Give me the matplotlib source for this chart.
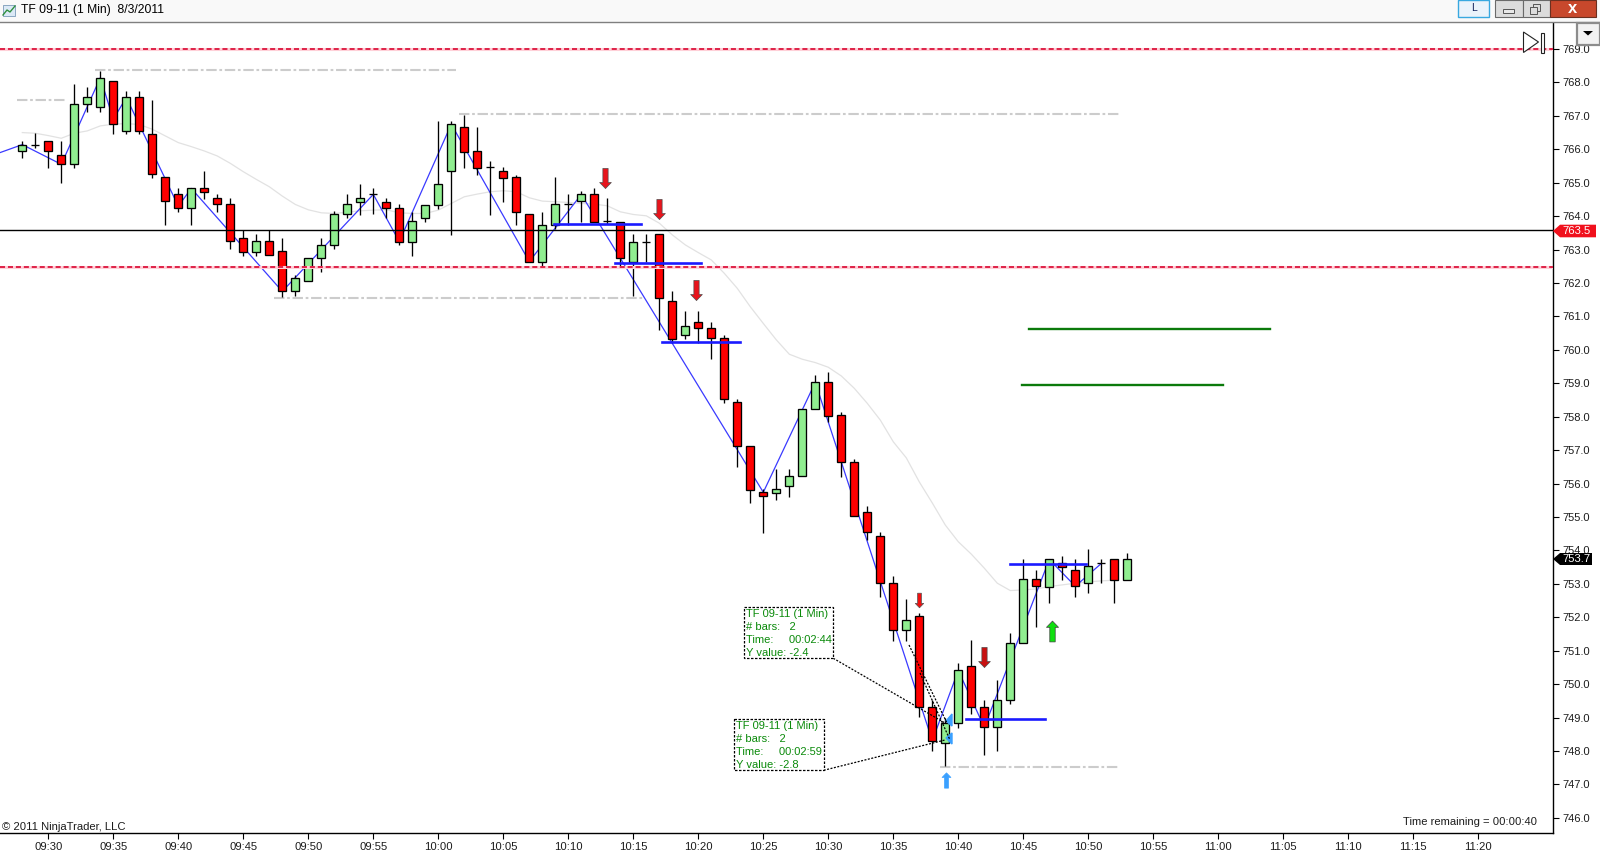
import matplotlib
matplotlib.use("Agg")
import matplotlib.pyplot as plt
from matplotlib.path import Path
from matplotlib.patches import Rectangle, Polygon
from matplotlib.lines import Line2D

plt.rcParams['font.family'] = ['Liberation Sans', 'DejaVu Sans']

W, H = 1600, 860
INK = '#1c1c1c'

# minutes after 09:30 of each bar
bar_t = list(range(-2, 83 + 1))
opens = [765.94, 766.14, 766.24, 765.84, 765.55, 767.35, 767.26, 768.05, 766.54, 767.55,
         766.45, 765.16, 764.65, 764.23, 764.83, 764.53, 764.35, 763.34, 762.94, 763.25,
         762.95, 761.75, 762.05, 762.74, 763.15, 764.05, 764.43, 764.65, 764.43, 764.23,
         763.24, 763.93, 764.34, 765.34, 766.66, 765.94, 765.46, 765.34, 765.16, 764.05,
         762.64, 763.75, 764.35, 764.44, 764.65, 763.85, 763.83, 762.64, 763.24, 763.46,
         761.45, 760.43, 760.82, 760.64, 760.35, 758.43, 757.13, 755.74, 755.73, 755.92,
         756.22, 758.22, 759.03, 758.04, 756.64, 755.14, 754.42, 753.02, 751.61, 752.03,
         749.31, 748.23, 748.83, 750.53, 749.31, 748.71, 749.52, 751.22, 753.14, 752.92,
         753.61, 753.43, 753.02, 753.61, 753.73, 753.13]
closes = [766.14, 766.14, 765.94, 765.55, 767.35, 767.55, 768.14, 766.75, 767.55, 766.54,
          765.25, 764.44, 764.23, 764.83, 764.73, 764.35, 763.25, 762.94, 763.25, 762.83,
          761.75, 762.14, 762.74, 763.15, 764.05, 764.35, 764.53, 764.65, 764.23, 763.24,
          763.85, 764.34, 764.95, 766.75, 765.93, 765.45, 765.46, 765.15, 764.13, 762.64,
          763.75, 764.35, 764.35, 764.65, 763.83, 763.85, 762.74, 763.24, 763.24, 761.54,
          760.34, 760.72, 760.64, 760.35, 758.52, 757.13, 755.82, 755.62, 755.83, 756.22,
          758.22, 759.03, 758.03, 756.64, 755.02, 754.54, 753.02, 751.61, 751.91, 749.31,
          748.31, 748.83, 750.41, 749.31, 748.71, 749.52, 751.22, 753.14, 752.94, 753.73,
          753.51, 752.93, 753.52, 753.61, 753.13, 753.73]
highs = [766.24, 766.50, 766.24, 766.24, 767.95, 767.85, 768.34, 768.05, 767.75, 767.75,
         767.47, 765.16, 764.84, 764.83, 765.35, 764.65, 764.53, 763.58, 763.47, 763.58,
         763.34, 762.24, 762.74, 763.34, 764.14, 764.65, 764.95, 764.83, 764.53, 764.35,
         764.13, 764.34, 766.85, 766.85, 767.03, 766.66, 765.64, 765.46, 765.24, 764.05,
         764.13, 765.16, 764.65, 764.74, 764.83, 764.53, 763.83, 763.46, 763.46, 763.46,
         761.75, 761.16, 761.16, 760.82, 760.45, 758.52, 757.13, 755.84, 756.44, 756.44,
         758.22, 759.25, 759.35, 758.13, 756.74, 755.32, 754.55, 753.24, 752.55, 752.12,
         749.53, 748.98, 750.62, 751.32, 749.53, 750.12, 751.52, 753.73, 753.43, 753.73,
         753.83, 753.73, 754.03, 753.73, 753.73, 753.93]
lows = [765.75, 766.04, 765.45, 765.00, 765.45, 767.13, 767.13, 766.45, 766.45, 766.45,
        765.15, 763.75, 764.13, 763.75, 764.51, 764.13, 763.03, 762.82, 762.82, 762.83,
        761.57, 761.61, 762.05, 762.34, 763.03, 763.93, 764.03, 764.05, 763.93, 763.14,
        762.82, 763.83, 764.22, 763.44, 765.44, 765.24, 764.03, 764.43, 763.74, 762.64,
        762.44, 763.63, 763.75, 763.83, 763.83, 763.77, 762.52, 761.62, 762.64, 760.60,
        760.20, 760.34, 760.20, 759.74, 758.42, 756.51, 755.43, 754.53, 755.52, 755.61,
        756.22, 758.22, 757.83, 756.21, 755.02, 754.30, 752.62, 751.30, 751.30, 749.01,
        748.01, 747.55, 748.70, 749.11, 747.89, 748.01, 749.41, 751.22, 751.72, 752.42,
        753.12, 752.62, 752.72, 753.02, 752.42, 753.13]

# zigzag through swing points
zig_t = [-3.72, -2, 1, 4, 5, 6, 10, 11, 18, 25, 27, 31, 37, 41, 55, 59, 68, 70, 72, 77, 79, 81]
zig_p = [765.90, 766.14, 765.55, 768.14, 766.90, 767.55, 764.30, 764.83, 761.75, 764.65,
         763.24, 766.75, 762.64, 764.65, 755.74, 759.03, 748.31, 750.41, 748.71, 753.73,
         752.93, 753.61]

# moving average, from 09:28 to 10:52
sma_p = [766.50, 766.48, 766.41, 766.33, 766.48, 766.55, 766.70, 766.75, 766.77, 766.74,
         766.60, 766.40, 766.20, 766.08, 765.95, 765.80, 765.58, 765.33, 765.10, 764.88,
         764.60, 764.35, 764.19, 764.10, 764.08, 764.12, 764.16, 764.18, 764.19, 764.10,
         764.08, 764.08, 764.18, 764.38, 764.58, 764.66, 764.73, 764.76, 764.73, 764.55,
         764.45, 764.43, 764.41, 764.38, 764.36, 764.31, 764.13, 764.05, 764.01, 763.79,
         763.44, 763.14, 762.91, 762.69, 762.29, 761.84, 761.29, 760.79, 760.30, 759.87,
         759.72, 759.62, 759.48, 759.22, 758.85, 758.40, 757.90, 757.25, 756.77, 756.05,
         755.42, 754.76, 754.26, 753.89, 753.47, 753.02, 752.80, 752.82, 752.85, 752.92,
         752.97, 753.02, 753.06, 753.09, 753.11]
sma_t = list(range(-2, 83))

last_price = 763.58
red_levels = [769.00, 762.47]

gray_lv_p = [767.47, 768.37, 767.06, 761.55, 747.53]
gray_lv_a = [-2.4, 3.6, 31.6, 17.4, 68.6]
gray_lv_b = [1.4, 31.4, 82.4, 45.9, 82.4]

blue_lv_p = [763.77, 762.59, 760.23, 748.95, 753.59]
blue_lv_a = [38.9, 43.6, 47.2, 70.6, 74.0]
blue_lv_b = [45.6, 50.2, 53.2, 76.7, 79.8]

green_lv_p = [760.61, 758.96]
green_lv_a = [75.4, 74.9]
green_lv_b = [94.0, 90.4]

arrow_dn_t = [42.85, 47.0, 49.85, 67.0, 72.0]
arrow_dn_p = [765.14, 764.21, 761.79, 752.52, 750.82]
arrow_dn_c = ['#e8141c', '#e8141c', '#e8141c', '#f01010', '#c81010']
arrow_dn_s = [14.5, 14.5, 14.5, 10.5, 14.5]
arrow_up_t = [77.2, 69.05]
arrow_up_p = [751.59, 747.12]
arrow_up_c = ['#10e010', '#3aa0ff']
arrow_up_s = [15, 11]

time_labels = ['09:30', '09:35', '09:40', '09:45', '09:50', '09:55', '10:00', '10:05', '10:10',
               '10:15', '10:20', '10:25', '10:30', '10:35', '10:40', '10:45', '10:50', '10:55',
               '11:00', '11:05', '11:10', '11:15', '11:20']
time_ticks = [5 * i for i in range(len(time_labels))]
price_ticks = [746 + i for i in range(24)]

note_1 = ['TF 09-11 (1 Min)', '# bars:   2', 'Time:     00:02:44', 'Y value: -2.4']
note_2 = ['TF 09-11 (1 Min)', '# bars:   2', 'Time:     00:02:59', 'Y value: -2.8']

fig = plt.figure(figsize=(W / 100, H / 100), dpi=100, facecolor='white')
L, R, T, B = 0, 1553, 22, 833
ax = fig.add_axes([L / W, 1 - B / H, (R - L) / W, (B - T) / H])
ax.set_xlim(-48.3 / 13, (R - 48.3) / 13)
ax.set_ylim(769 - (B - 49) / 33.43, 769 + (49 - T) / 33.43)
ax.patch.set_alpha(0)
for s in ('top', 'left'):
    ax.spines[s].set_visible(False)
ax.spines['right'].set_linewidth(1.0)
ax.spines['bottom'].set_linewidth(1.0)
ax.yaxis.tick_right()
ax.set_xticks(time_ticks, time_labels)
ax.set_yticks(price_ticks, [f'{p:.1f}' for p in price_ticks])
ax.tick_params(axis='x', length=4.6, width=0.8, labelsize=8.1, labelcolor=INK, pad=1.8)
ax.tick_params(axis='y', length=4.6, width=0.8, labelsize=8.0, labelcolor=INK, pad=2.5)

# overlay in pixel coordinates for chrome
ov = fig.add_axes([0, 0, 1, 1], zorder=5)
ov.set_xlim(0, W)
ov.set_ylim(H, 0)
ov.axis('off')
ov.patch.set_alpha(0)

ax.plot(sma_t, sma_p, color='#e2e2e2', lw=0.9, zorder=1)
ax.plot(zig_t, zig_p, color='#3a3aff', lw=0.9, zorder=2)

for a, b, p in zip(gray_lv_a, gray_lv_b, gray_lv_p):
    ax.plot([a, b], [p, p], color='#cccccc', lw=1.5, ls=(0, (5, 1.3, 1.3, 1.3)), zorder=1.5)

for t, o, c, h, l in zip(bar_t, opens, closes, highs, lows):
    ax.plot([t, t], [l, h], color='black', lw=0.95, zorder=3, solid_capstyle='butt')
    col = '#90ee90' if c >= o else '#ff0000'
    ax.bar(t, abs(c - o), bottom=min(o, c), width=0.62, color=col, edgecolor='black',
           linewidth=0.95, zorder=4)

ax.axhline(last_price, color='black', lw=1.0, zorder=5)
for p in red_levels:
    ax.axhline(p, color='#ffd0d8', lw=2.2, zorder=5)
    ax.axhline(p, color='#dc143c', lw=1.3, ls=(0, (2.8, 1.6)), zorder=5.1)
for a, b, p in zip(blue_lv_a, blue_lv_b, blue_lv_p):
    ax.plot([a, b], [p, p], color='#1a1aff', lw=1.9, zorder=6)
for a, b, p in zip(green_lv_a, green_lv_b, green_lv_p):
    ax.plot([a, b], [p, p], color='#0b7a0b', lw=1.7, zorder=6)

dn = Path([(-.13, .5), (.13, .5), (.13, -.2), (.29, -.2), (0, -.5), (-.29, -.2), (-.13, -.2), (-.13, .5)], closed=True)
up = Path([(-.13, -.5), (.13, -.5), (.13, .2), (.29, .2), (0, .5), (-.29, .2), (-.13, .2), (-.13, -.5)], closed=True)
for t, p, c, s in zip(arrow_dn_t, arrow_dn_p, arrow_dn_c, arrow_dn_s):
    ax.plot([t], [p], marker=dn, ms=s, mfc=c, mec='#505050', mew=0.5, zorder=7, ls='none')
for t, p, c, s in zip(arrow_up_t, arrow_up_p, arrow_up_c, arrow_up_s):
    ax.plot([t], [p], marker=up, ms=s, mfc=c, mec='#404040' if c == '#10e010' else c, mew=0.5, zorder=7, ls='none')

# small blue triangles of the measuring tool
ov.add_patch(Polygon([(946, 721), (952, 714), (952, 726)], color='#3aa0ff', zorder=3))
ov.add_patch(Polygon([(946, 738), (952, 733), (952, 744)], color='#3aa0ff', zorder=3))

# measuring lines and callouts
for seg in [((833.3, 658.3), (945, 723)), ((823.7, 770.3), (945, 740)),
            ((909, 645), (947, 723)), ((920, 673), (950, 740))]:
    ov.add_line(Line2D([seg[0][0], seg[1][0]], [seg[0][1], seg[1][1]], color='black', lw=0.9,
                       ls=(0, (1.6, 1.2)), zorder=4))


def note(x0, y0, x1, y1, lines):
    ov.add_patch(Rectangle((x0, y0), x1 - x0, y1 - y0, fc='white', ec='black', lw=0.9,
                           ls=(0, (2, 1.2)), zorder=5))
    for i, s in enumerate(lines):
        ov.text(x0 + 2, y0 + 7.5 + i * 13, s, color='#0a8a0a', fontsize=8.0, va='center', ha='left', zorder=6)


note(744.3, 606.7, 833.3, 658.3, note_1)
note(734.3, 718.7, 823.7, 770.3, note_2)

# texts inside chart
ov.text(2, 827, '\u00a9 2011 NinjaTrader, LLC', fontsize=8.1, color=INK, va='center', ha='left')
ov.text(1537, 822, 'Time remaining = 00:00:40', fontsize=8.1, color=INK, va='center', ha='right')

# end-of-chart glyph
ov.add_patch(Polygon([(1523.5, 32), (1538.5, 42), (1523.5, 52.5)], fc='white', ec='#222222', lw=0.8))
ov.add_patch(Rectangle((1540.5, 32.5), 3, 20, fc='white', ec='#222222', lw=0.8))

# price tags
ov.add_patch(Polygon([(1553, 231), (1560, 224.7), (1596, 224.7), (1596, 237.3), (1560, 237.3)], fc='#f0101c', ec='none', zorder=6))
ov.text(1562.5, 231, '763.5', color='white', fontsize=8.1, va='center', ha='left', zorder=7)
ov.add_patch(Polygon([(1553, 559), (1560, 553), (1592, 553), (1592, 565), (1560, 565)], fc='black', ec='none', zorder=6))
ov.text(1562.5, 559, '753.7', color='white', fontsize=8.1, va='center', ha='left', zorder=7)

# window title bar
ov.add_patch(Rectangle((0, 0), W, 21.5, fc='#f9f9f9', ec='none', zorder=0))
ov.add_line(Line2D([0, W], [21.7, 21.7], color='#7f7f7f', lw=1.0))
ov.add_patch(Rectangle((3, 5), 12, 11, fc='#dbe9f6', ec='#7a9ab8', lw=0.6))
ov.add_line(Line2D([3, 7, 10, 15], [15, 10, 12, 6], color='#2f8f3f', lw=1.0))
ov.text(21, 10.5, 'TF 09-11 (1 Min)  8/3/2011', fontsize=8.7, color='black', va='center', ha='left')
ov.add_patch(Rectangle((1458, 0), 31, 16.5, fc='#eaf3fb', ec='#38a8e0', lw=1.0))
ov.text(1473.5, 8, 'L', fontsize=7.5, color='#10205a', ha='center', va='center')
ov.add_patch(Rectangle((1495, 0), 28, 17, fc='#dcdcdc', ec='#6a6a6a', lw=0.8))
ov.add_patch(Rectangle((1523, 0), 27, 17, fc='#dcdcdc', ec='#6a6a6a', lw=0.8))
ov.add_patch(Rectangle((1550, 0), 46, 17, fc='#c8482c', ec='#6a3020', lw=0.8))
ov.add_patch(Rectangle((1503, 9), 11, 3.5, fc='#e8e8e8', ec='#555555', lw=0.7))
ov.add_patch(Rectangle((1533, 4), 7, 7, fc='none', ec='#555555', lw=0.7))
ov.add_patch(Rectangle((1530, 7), 7, 7, fc='#dcdcdc', ec='#555555', lw=0.7))
ov.text(1573, 8.5, 'x', fontsize=12, fontweight='bold', color='white', ha='center', va='center')

# scale dropdown button
ov.add_patch(Rectangle((1577, 23), 23, 22, fc='#f2f2f2', ec='#8c8c8c', lw=1.6, zorder=6))
ov.add_patch(Polygon([(1583, 31), (1593, 31), (1588, 35.5)], fc='black', ec='none', zorder=7))

fig.savefig('out.png', dpi=100)
